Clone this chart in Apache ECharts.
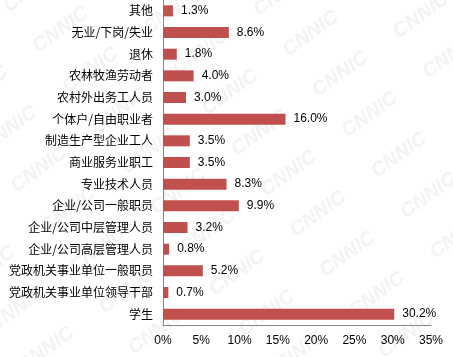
<!DOCTYPE html>
<html><head><meta charset="utf-8">
<script src="https://cdn.jsdelivr.net/npm/echarts@6/dist/echarts.min.js"></script>
<style>html,body{margin:0;padding:0;background:#fff}#c{width:453px;height:357px}</style>
</head><body><div id="c"></div>
<script>
const categories = ['其他','无业/下岗/失业','退休','农林牧渔劳动者','农村外出务工人员','个体户/自由职业者','制造生产型企业工人','商业服务业职工','专业技术人员','企业/公司一般职员','企业/公司中层管理人员','企业/公司高层管理人员','党政机关事业单位一般职员','党政机关事业单位领导干部','学生'];
const values = [1.3,8.6,1.8,4.0,3.0,16.0,3.5,3.5,8.3,9.9,3.2,0.8,5.2,0.7,30.2];
const xTicks = [0,5,10,15,20,25,30,35];

const chart = echarts.init(document.getElementById('c'));
const wm = [];
const ang = Math.PI/5, ca = Math.cos(ang), sa = Math.sin(ang);
for (let i = -6; i < 8; i++) {
  for (let j = -2; j < 14; j++) {
    const x = i*100*ca + j*50*sa;
    const y = -i*100*sa + j*50*ca;
    if (x < -60 || x > 470 || y < -40 || y > 380) continue;
    wm.push({type:'text', x: x, y: y, rotation: ang, z: -10, silent:true,
      style:{text:'CNNIC', fill:'#f3f3f3', font:'italic bold 20px Liberation Sans'}});
  }
}
chart.setOption({
  animation:false,
  graphic: wm,
  grid:{left:163, right:22, top:0, height:325},
  xAxis:{type:'value', min:0, max:35, interval:5,
    axisLine:{show:true, lineStyle:{color:'#868686'}}, axisTick:{show:false}, splitLine:{show:false},
    axisLabel:{formatter: v => v + '%', color:'#000', fontSize:12, fontFamily:'Liberation Sans, Arial', margin:10}},
  yAxis:{type:'category', data:categories, inverse:true,
    axisLine:{show:true, lineStyle:{color:'#868686'}}, axisTick:{show:false},
    axisLabel:{color:'#000', fontSize:12, fontFamily:'Noto Sans CJK SC', margin:10}},
  series:[{type:'bar', data:values, barWidth:11, itemStyle:{color:'#C0504D'},
    label:{show:true, position:'right', distance:8, formatter: p => p.value.toFixed(1) + '%', color:'#000', fontSize:12, fontFamily:'Liberation Sans, Arial'}}]
});
</script></body></html>
